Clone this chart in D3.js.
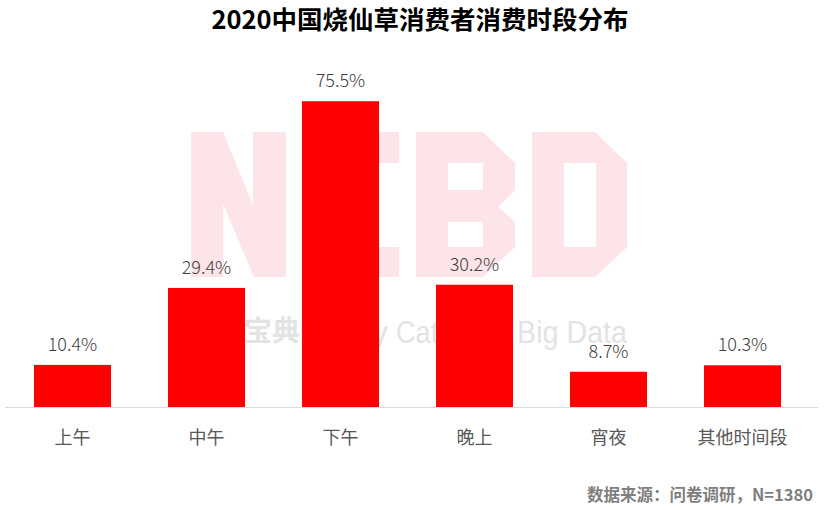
<!DOCTYPE html>
<html>
<head>
<meta charset="utf-8">
<script src="https://cdn.jsdelivr.net/npm/d3@7"></script>
<style>
  html, body { margin: 0; padding: 0; background: #fff; }
  svg { display: block; }
</style>
</head>
<body>
<svg id="chart" width="824" height="510"></svg>
<script>
const categories = ["上午", "中午", "下午", "晚上", "宵夜", "其他时间段"];
const values = [10.4, 29.4, 75.5, 30.2, 8.7, 10.3];
const valueLabels = ["10.4%", "29.4%", "75.5%", "30.2%", "8.7%", "10.3%"];
const titleText = "2020中国烧仙草消费者消费时段分布";
const sourceText = "数据来源：问卷调研，N=1380";

const svg = d3.select("#chart");
const cjk = "'Noto Sans CJK SC', 'Microsoft YaHei', sans-serif";
const latin = "'Liberation Sans', Arial, sans-serif";

// Watermark (decorative, behind bars)
const wm = svg.append("g").attr("fill", "#fde4e8");
wm.append("path").attr("d",
  "M191,132 H223 L253,205 V132 H286 V277 H254 L223,204 V277 H191 Z");
wm.append("path").attr("d",
  "M303,132 H399 V163 H334 V247 H399 V277 H303 Z");
wm.append("path").attr("fill-rule", "evenodd").attr("d",
  "M416,132 H483 L515,163 V190 L498,207 L515,222 V247 L483,277 H416 Z " +
  "M448,163 H483 V190 H448 Z M448,222 H483 V247 H448 Z");
wm.append("path").attr("fill-rule", "evenodd").attr("d",
  "M532,132 H595 L627,163 V247 L595,277 H532 Z M564,163 H596 V247 H564 Z");

const wm2 = svg.append("g").attr("fill", "#e3e3e3");
wm2.append("text").attr("x", 300).attr("y", 341).attr("text-anchor", "end")
  .attr("font-family", cjk).attr("font-weight", "bold").attr("font-size", 28)
  .text("餐宝典");
wm2.append("text").attr("x", 388).attr("y", 343).attr("text-anchor", "end")
  .attr("font-family", latin).attr("font-size", 32)
  .text("ry");
wm2.append("text").attr("x", 396).attr("y", 343)
  .attr("font-family", latin).attr("font-size", 32)
  .attr("textLength", 110).attr("lengthAdjust", "spacingAndGlyphs")
  .text("Category");
wm2.append("text").attr("x", 517).attr("y", 343)
  .attr("font-family", latin).attr("font-size", 32)
  .attr("textLength", 110).attr("lengthAdjust", "spacingAndGlyphs")
  .text("Big Data");

// Scales
const x = d3.scaleBand().domain(categories).range([5.5, 809.5]).paddingInner(0.425).paddingOuter(0.2125);
const y = d3.scaleLinear().domain([0, 80]).range([407, 83]);

// Bars
svg.append("g").selectAll("rect").data(values).join("rect")
  .attr("x", (d, i) => x(categories[i]))
  .attr("width", x.bandwidth())
  .attr("y", d => y(d))
  .attr("height", d => y(0) - y(d))
  .attr("fill", "#ff0000");

// Axis
const xAxis = d3.axisBottom(x).tickSize(0).tickPadding(0);
const ax = svg.append("g").attr("transform", `translate(0,${y(0)})`).call(xAxis);
ax.select(".domain").attr("d", "M5,0.5H818").attr("stroke", "#d9d9d9").attr("stroke-width", 1);
ax.selectAll(".tick text")
  .attr("y", 37).attr("dy", null)
  .attr("font-family", cjk).attr("font-size", 18).attr("fill", "#595959");

// Value labels
svg.append("g").selectAll("text").data(values).join("text")
  .attr("x", (d, i) => x(categories[i]) + x.bandwidth() / 2)
  .attr("y", d => y(d) - 14)
  .attr("text-anchor", "middle")
  .attr("font-family", cjk).attr("font-size", 18).attr("font-weight", 300)
  .attr("fill", "#404040")
  .text((d, i) => valueLabels[i]);

// Title
svg.append("text").attr("x", 420).attr("y", 29).attr("text-anchor", "middle")
  .attr("font-family", cjk).attr("font-weight", "bold").attr("font-size", 25.5)
  .attr("fill", "#000").text(titleText);

// Source
svg.append("text").attr("x", 813).attr("y", 501).attr("text-anchor", "end")
  .attr("font-family", cjk).attr("font-weight", "bold").attr("font-size", 16.5)
  .attr("fill", "#7f7f7f").text(sourceText);
</script>
</body>
</html>
